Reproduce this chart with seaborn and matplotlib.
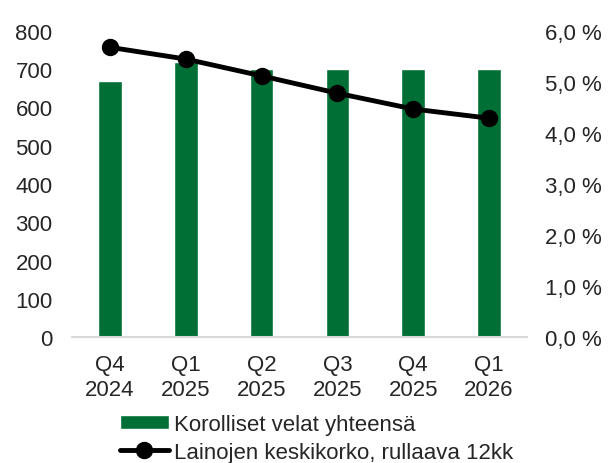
import numpy as np
import pandas as pd
import matplotlib.pyplot as plt
import seaborn as sns

# data
quarters = ["Q4\n2024", "Q1\n2025", "Q2\n2025", "Q3\n2025", "Q4\n2025", "Q1\n2026"]
debt = [670, 720, 700, 700, 700, 700]
avg_rate = [5.68, 5.45, 5.12, 4.78, 4.47, 4.29]

bar_label = "Korolliset velat yhteensä"
line_label = "Lainojen keskikorko, rullaava 12kk"

green = "#006F35"

sns.set_theme(style="white")
plt.rcParams["font.family"] = ["Liberation Sans", "DejaVu Sans"]
plt.rcParams["font.size"] = 16

df = pd.DataFrame({"q": quarters, "debt": debt, "rate": avg_rate})

fig = plt.figure(figsize=(6.11, 4.64), dpi=100)
ax = fig.add_axes([72 / 611, 1 - 338 / 464, 455 / 611, 306 / 464])

sns.barplot(data=df, x="q", y="debt", color=green, width=0.31, ax=ax,
            saturation=1, label=bar_label, legend=False)
ax.set_ylim(0, 800)
ax.set_yticks(range(0, 801, 100))
ax.set_xlim(-0.5, 5.5)
ax.set_xlabel("")
ax.set_ylabel("")
for s in ["top", "right", "left"]:
    ax.spines[s].set_visible(False)
ax.spines["bottom"].set_color("#d9d9d9")
ax.spines["bottom"].set_linewidth(1.5)
ax.tick_params(axis="y", length=0, pad=14, labelsize=16)
ax.tick_params(axis="x", length=0, pad=12, labelsize=16)
for t in ax.get_xticklabels():
    t.set_linespacing(1.3)

ax2 = ax.twinx()
ax2.plot(np.arange(len(avg_rate)), avg_rate, color="black", lw=3.5,
         marker="o", markersize=11.5, label=line_label)
ax2.set_ylim(0, 6)
ax2.set_yticks(np.arange(0, 6.1, 1))
ax2.set_yticklabels([f"{v:.1f} %".replace(".", ",") for v in np.arange(0, 6.1, 1)])
for s in ["top", "right", "left", "bottom"]:
    ax2.spines[s].set_visible(False)
ax2.tick_params(axis="y", length=0, pad=13, labelsize=16)

h1, l1 = ax.get_legend_handles_labels()
h2, l2 = ax2.get_legend_handles_labels()
fig.legend(h1 + h2, l1 + l2, loc="upper left", bbox_to_anchor=(120 / 611, 1 - 415 / 464),
           frameon=False, fontsize=16, handlelength=2.2, handleheight=0.55,
           handletextpad=0.23, labelspacing=0.3, borderaxespad=0, borderpad=0)

fig.savefig("out.png", dpi=100)
